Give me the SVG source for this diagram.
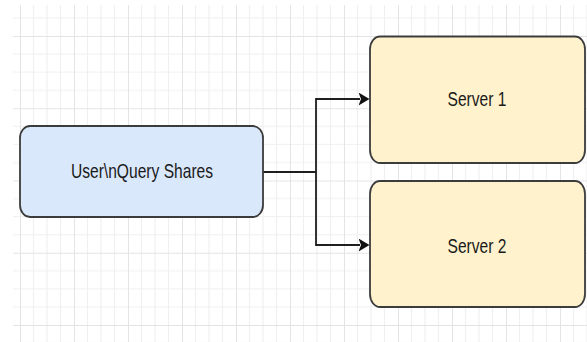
<svg xmlns="http://www.w3.org/2000/svg" width="587" height="342" viewBox="0 0 587 342">
  <style>
    .node-box { stroke: #3c3c3c; stroke-width: 1.8; }
    .user-box { fill: #dae8fc; }
    .server-box { fill: #fff2cc; }
    .label { font-family: "Liberation Sans", Arial, sans-serif; font-size: 15.6px; fill: #1a1a1a; text-anchor: middle; }
    .edge { fill: none; stroke: #1f1f1f; stroke-width: 1.8; marker-end: url(#arrow); }
  </style>
  <defs>
    <!-- background grid: minor cells 13.5 x 18.06, major every 4 cells -->
    <pattern id="grid" patternUnits="userSpaceOnUse" x="20" y="36" width="54" height="72.25">
      <g stroke="#f0f0f0" stroke-width="1.2">
        <line x1="13.5" y1="0" x2="13.5" y2="72.25"/>
        <line x1="27" y1="0" x2="27" y2="72.25"/>
        <line x1="40.5" y1="0" x2="40.5" y2="72.25"/>
        <line x1="0" y1="18.06" x2="54" y2="18.06"/>
        <line x1="0" y1="36.12" x2="54" y2="36.12"/>
        <line x1="0" y1="54.19" x2="54" y2="54.19"/>
      </g>
      <g stroke="#e4e4e4" stroke-width="2">
        <line x1="0" y1="0" x2="0" y2="72.25"/>
        <line x1="0" y1="0" x2="54" y2="0"/>
      </g>
    </pattern>
    <marker id="arrow" viewBox="0 0 11 13" markerWidth="11" markerHeight="13" refX="1.5" refY="6.5" markerUnits="userSpaceOnUse" orient="auto">
      <path d="M0,0 L11,6.5 L0,13 L2.5,6.5 Z" fill="#111111"/>
    </marker>
  </defs>

  <rect width="587" height="342" fill="#ffffff"/>
  <rect x="13" y="5" width="574" height="337" fill="url(#grid)"/>

  <g id="connectors">
    <path class="edge" d="M263,172 H316 V99 H360"/>
    <path class="edge" d="M316,172 V245 H360"/>
  </g>

  <g id="user">
    <rect class="node-box user-box" x="20" y="126" width="243" height="91" rx="10" ry="12"/>
    <text class="label" transform="translate(142,177.7) scale(1,1.28)" x="0" y="0">User\nQuery Shares</text>
  </g>

  <g id="server1">
    <rect class="node-box server-box" x="370" y="36.5" width="215" height="126.5" rx="10" ry="13"/>
    <text class="label" transform="translate(477,106) scale(1,1.28)" x="0" y="0">Server 1</text>
  </g>

  <g id="server2">
    <rect class="node-box server-box" x="370" y="181" width="215" height="126" rx="10" ry="13"/>
    <text class="label" transform="translate(477,252.5) scale(1,1.28)" x="0" y="0">Server 2</text>
  </g>
</svg>
